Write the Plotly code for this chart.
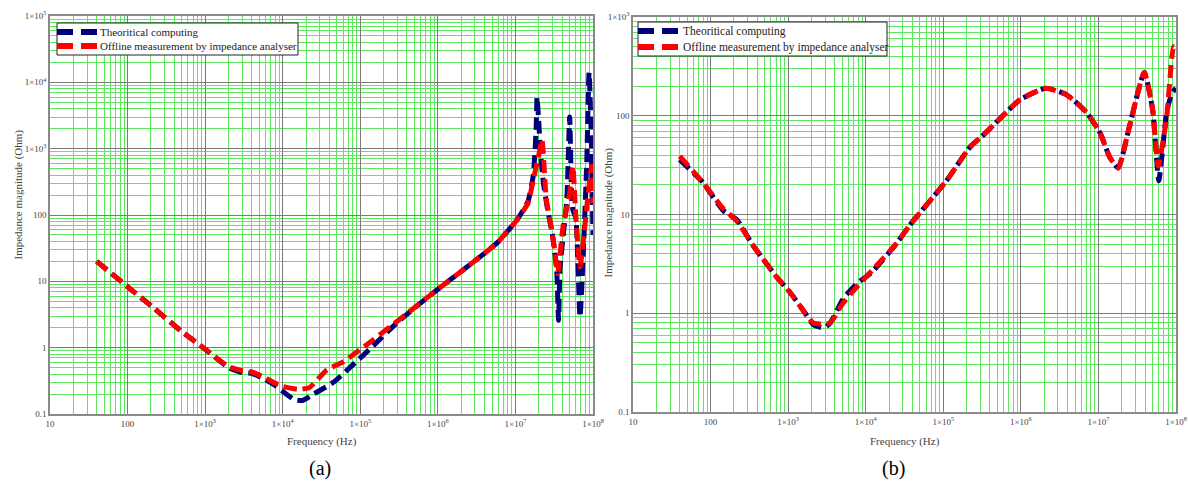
import plotly.graph_objects as go

# ---------------- data ----------------
# Panel (a)
a_theo_f = [40, 100, 200, 500, 1000, 2000, 3000, 4000, 6000, 8000, 1e4, 1.4e4, 1.8e4, 2.5e4,
            4.5e4, 8e4, 1.45e5, 3e5, 8.7e5, 2.3e6, 5.8e6, 1.05e7, 1.45e7, 1.7e7, 1.85e7, 1.9e7,
            2.0e7, 2.1e7, 2.3e7, 2.6e7, 3.0e7, 3.4e7, 3.6e7, 3.75e7, 4.2e7, 4.6e7, 5.0e7, 5.3e7,
            5.5e7, 6.0e7, 6.8e7, 7.6e7, 8.3e7, 8.9e7, 9.5e7, 1e8]
a_theo_z = [20, 8.3, 4.3, 1.75, 0.95, 0.5, 0.42, 0.41, 0.33, 0.27, 0.22, 0.165, 0.16, 0.2,
            0.3, 0.55, 1.05, 2.4, 6.7, 16, 38, 85, 160, 400, 2000, 6000,
            2500, 900, 300, 120, 50, 15, 2.6, 15, 60, 170, 3000, 200,
            120, 90, 2.9, 40, 600, 14000, 1500, 50]

a_meas_f = [40, 100, 200, 500, 1000, 2000, 3000, 4000, 6000, 8000, 1e4, 1.6e4, 2.2e4, 3.7e4,
            6e4, 1.2e5, 2.6e5, 3e5, 8.7e5, 2.3e6, 5.8e6, 1.05e7, 1.45e7, 1.7e7, 2.0e7, 2.2e7,
            2.5e7, 2.9e7, 3.2e7, 3.5e7, 4.1e7, 5.0e7, 5.5e7, 6.0e7, 6.8e7, 8.5e7, 9.6e7, 1e8]
a_meas_z = [20, 8.3, 4.3, 1.75, 0.95, 0.52, 0.45, 0.43, 0.35, 0.29, 0.26, 0.235, 0.25, 0.46,
            0.61, 1.1, 2.2, 2.5, 6.7, 16, 38, 85, 150, 340, 800, 1350,
            170, 66, 30, 13, 66, 215, 540, 94, 16.5, 170, 540, 150]

# Panel (b)
b_theo_f = [40, 80, 145, 220, 350, 720, 1050, 1550, 2100, 2900, 3500, 5100, 7700, 1.2e4,
            2.5e4, 3.7e4, 1.1e5, 2.2e5, 3.3e5, 4.9e5, 9.7e5, 2.1e6, 3.9e6, 7.1e6, 1.05e7, 1.4e7,
            1.8e7, 2.5e7, 3.9e7, 5e7, 6e7, 7.6e7, 8.9e7, 1e8]
b_theo_z = [36, 21, 11, 8.8, 4.9, 2.3, 1.64, 1.08, 0.77, 0.71, 0.8, 1.4, 2.0, 2.6,
            5.1, 7.8, 22, 48, 64, 87, 145, 190, 163, 107, 67, 38,
            29.6, 77, 275, 115, 22, 110, 170, 190]

b_meas_f = [40, 80, 145, 220, 350, 720, 1050, 1550, 2100, 2500, 3000, 3500, 5100, 7700, 1.2e4,
            2.5e4, 3.7e4, 1.1e5, 2.2e5, 3.3e5, 4.9e5, 9.7e5, 2.1e6, 3.9e6, 7.1e6, 1.05e7, 1.4e7,
            1.8e7, 2.5e7, 3.9e7, 5e7, 5.9e7, 7.6e7, 9.3e7, 1e8]
b_meas_z = [39, 21, 11.5, 8.5, 4.9, 2.3, 1.64, 1.08, 0.8, 0.78, 0.77, 0.8, 1.27, 1.85, 2.7,
            5.1, 7.8, 22, 48, 64, 87, 145, 190, 163, 107, 67, 38,
            29.6, 77, 275, 115, 31, 98, 500, 480]

series_names = ["Theoritical computing", "Offline measurement by impedance analyser"]
series_colors = ["#00007a", "#ff0000"]

x_tickvals = [10, 100, 1e3, 1e4, 1e5, 1e6, 1e7, 1e8]
x_ticktext = ["10", "100", "1×10<sup>3</sup>", "1×10<sup>4</sup>", "1×10<sup>5</sup>",
              "1×10<sup>6</sup>", "1×10<sup>7</sup>", "1×10<sup>8</sup>"]
a_y_tickvals = [0.1, 1, 10, 100, 1e3, 1e4, 1e5]
a_y_ticktext = ["0.1", "1", "10", "100", "1×10<sup>3</sup>", "1×10<sup>4</sup>", "1×10<sup>5</sup>"]
b_y_tickvals = [0.1, 1, 10, 100, 1e3]
b_y_ticktext = ["0.1", "1", "10", "100", "1×10<sup>3</sup>"]

x_title = "Frequency (Hz)"
y_title = "Impedance magnitude (Ohm)"
panel_labels = ["(a)", "(b)"]

# ---------------- figure ----------------
W, H = 1189, 483
FONT = "'Liberation Serif', 'Times New Roman', serif"


def minor_vals(lo_exp, hi_exp):
    vals = []
    for e in range(lo_exp, hi_exp):
        for m in range(2, 10):
            vals.append(m * 10 ** e)
    return vals


fig = go.Figure()

dash = "13px,6px"
data_sets = [
    (a_theo_f, a_theo_z, "x", "y", 0),
    (a_meas_f, a_meas_z, "x", "y", 1),
    (b_theo_f, b_theo_z, "x2", "y2", 0),
    (b_meas_f, b_meas_z, "x2", "y2", 1),
]
for fx, zy, xa, ya, k in data_sets:
    fig.add_trace(go.Scatter(
        x=fx, y=zy, xaxis=xa, yaxis=ya, mode="lines", showlegend=False,
        name=series_names[k],
        line=dict(color=series_colors[k], width=5, dash=dash, shape="spline", smoothing=0.5),
    ))

# plot-area geometry (pixels)
A = dict(x0=50, x1=593, y0=16, y1=414)
B = dict(x0=633, x1=1176, y0=17, y1=412)


def px(x):
    return x / W


def py(y):
    return 1 - y / H


def px_dom_x(g):
    return [px(g["x0"]), px(g["x1"])]


def px_dom_y(g):
    return [py(g["y1"]), py(g["y0"])]


axis_common = dict(
    type="log", showline=True, mirror=True, linecolor="#8a8a8a", linewidth=1.5,
    showgrid=True, gridcolor="#7a7a7a", gridwidth=1.3, ticks="", zeroline=False,
    automargin=False,
    tickfont=dict(family=FONT, size=9, color="#444444"),
)

minor_x = dict(tickmode="array", tickvals=minor_vals(1, 8), showgrid=True,
               gridcolor="#5ee65e", gridwidth=1, ticks="")

fig.update_layout(
    width=W, height=H, margin=dict(l=0, r=0, t=0, b=0, autoexpand=False),
    paper_bgcolor="white", plot_bgcolor="white", showlegend=False,
    font=dict(family=FONT, color="#333333"),
    xaxis=dict(axis_common, domain=px_dom_x(A), range=[1, 8], tickvals=x_tickvals,
               ticktext=x_ticktext, minor=minor_x, anchor="y"),
    yaxis=dict(axis_common, domain=px_dom_y(A), range=[-1, 5], tickvals=a_y_tickvals,
               ticktext=a_y_ticktext, anchor="x",
               minor=dict(tickmode="array", tickvals=minor_vals(-1, 5), showgrid=True,
                          gridcolor="#5ee65e", gridwidth=1, ticks="")),
    xaxis2=dict(axis_common, domain=px_dom_x(B), range=[1, 8], tickvals=x_tickvals,
                ticktext=x_ticktext, minor=minor_x, anchor="y2"),
    yaxis2=dict(axis_common, domain=px_dom_y(B), range=[-1, 3], tickvals=b_y_tickvals,
                ticktext=b_y_ticktext, anchor="x2",
                minor=dict(tickmode="array", tickvals=minor_vals(-1, 3), showgrid=True,
                           gridcolor="#5ee65e", gridwidth=1, ticks="")),
)

shapes = []
annotations = []

# legends (one box per panel), drawn in paper coordinates
legend_boxes = [
    dict(x0=57, x1=298, y0=23, y1=55, rows=[32, 46], s0=57, s1=97, fs=11),
    dict(x0=638, x1=887, y0=22, y1=56, rows=[31, 47], s0=638, s1=680, fs=11.5),
]
for lb in legend_boxes:
    shapes.append(dict(type="rect", xref="paper", yref="paper",
                       x0=px(lb["x0"]), x1=px(lb["x1"]), y0=py(lb["y1"]), y1=py(lb["y0"]),
                       line=dict(color="#222222", width=1), fillcolor="white", layer="above"))
    for k, ry in enumerate(lb["rows"]):
        shapes.append(dict(type="line", xref="paper", yref="paper",
                           x0=px(lb["s0"]), x1=px(lb["s1"]), y0=py(ry), y1=py(ry),
                           line=dict(color=series_colors[k], width=6, dash="16px,8px"),
                           layer="above"))
        annotations.append(dict(x=px(lb["s1"] + 0.5), y=py(ry), xref="paper", yref="paper",
                                text=series_names[k], showarrow=False, xanchor="left",
                                yanchor="middle",
                                font=dict(family=FONT, size=lb["fs"], color="#222222")))

for g, lab, cx in [(A, panel_labels[0], 320), (B, panel_labels[1], 893)]:
    annotations.append(dict(x=px((g["x0"] + g["x1"]) / 2), y=py(441), xref="paper", yref="paper",
                            text=x_title, showarrow=False, xanchor="center", yanchor="middle",
                            font=dict(family=FONT, size=11, color="#444444")))
    annotations.append(dict(x=px(cx), y=py(468), xref="paper", yref="paper",
                            text=lab, showarrow=False, xanchor="center", yanchor="middle",
                            font=dict(family=FONT, size=20, color="#000000")))
annotations.append(dict(x=px(9), y=py(195), xref="paper", yref="paper", text=y_title,
                        showarrow=False, textangle=-90, xanchor="left", yanchor="middle",
                        font=dict(family=FONT, size=11, color="#444444")))
annotations.append(dict(x=px(599), y=py(213), xref="paper", yref="paper", text=y_title,
                        showarrow=False, textangle=-90, xanchor="left", yanchor="middle",
                        font=dict(family=FONT, size=11, color="#444444")))
fig.update_layout(annotations=annotations, shapes=shapes)

fig.write_html(
    "out.html",
    config={"displayModeBar": False},
    post_script="document.body.style.margin='0';document.body.style.padding='0';"
                "document.body.style.overflow='hidden';",
)
